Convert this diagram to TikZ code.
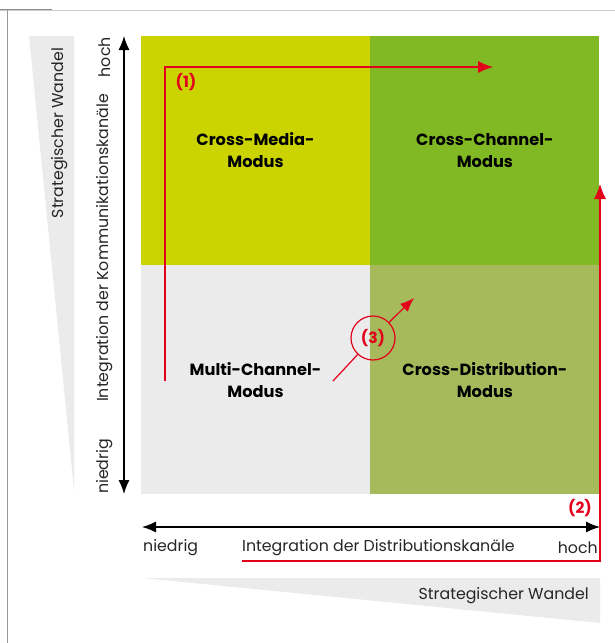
\documentclass[tikz,border=0pt]{standalone}
\usepackage{fontspec}
\setmainfont{Poppins}
\usetikzlibrary{arrows.meta,positioning}
\definecolor{mediagelb}{RGB}{203,211,0}
\definecolor{channelgruen}{RGB}{128,185,36}
\definecolor{multigrau}{RGB}{235,235,235}
\definecolor{distgruen}{RGB}{166,186,92}
\definecolor{pfeilrot}{RGB}{226,0,26}
\begin{document}
\begin{tikzpicture}[x=1pt,y=-1pt,
  quad/.style={minimum width=229pt,minimum height=229pt,inner sep=0pt,align=center,
    font=\fontsize{16.2}{22}\selectfont\bfseries},
  achse/.style={{Latex[length=14pt,width=11pt]}-{Latex[length=14pt,width=11pt]},line width=1.2pt},
  pfad/.style={color=pfeilrot,line width=1.2pt,-{Latex[length=15pt,width=12pt]}},
  marke/.style={text=pfeilrot,font=\fontsize{15.5}{17}\selectfont\bfseries,inner sep=0pt},
  beschr/.style={font=\fontsize{15.8}{18}\selectfont,inner sep=0pt,text=black!85}]
\useasboundingbox (0,0) rectangle (615,643);

% Rahmen
\draw[black!20,line width=1pt] (0,10) -- (615,10);
\draw[black!45,line width=1pt] (0,9) -- (52,9);
\draw[black!40,line width=1pt] (7,10) -- (7,643);

% Keile
\fill[multigrau] (29,36) -- (74,36) -- (74,490) -- cycle;
\fill[multigrau] (142,578) -- (600,578) -- (600,623) -- cycle;
\node[beschr,rotate=90] (keillinks) at (60,133) {Strategischer Wandel};
\node[beschr,anchor=east] (keilunten) at (589,596) {Strategischer Wandel};

% Quadranten
\node[quad,fill=mediagelb] (cm) at (255.5,150.5) {Cross-Media-\\Modus};
\node[quad,fill=channelgruen,right=0pt of cm] (cc) {Cross-Channel-\\Modus};
\node[quad,fill=multigrau,below=0pt of cm] (mc) {Multi-Channel-\\Modus};
\node[quad,fill=distgruen,right=0pt of mc] (cd) {Cross-Distribution-\\Modus};

% Achsen
\coordinate (yoben) at (124,36);
\coordinate (yunten) at (124,494);
\coordinate (xlinks) at (142,527);
\coordinate (xrechts) at (600,527);
\draw[achse] (yunten) -- (yoben);
\draw[achse] (xlinks) -- (xrechts);
\node[beschr,rotate=90,anchor=east] (yhoch) at (105,37) {hoch};
\node[beschr,rotate=90,anchor=west] (yniedrig) at (105,494) {niedrig};
\node[beschr,rotate=90] (ytitel) at (105,248) {Integration der Kommunikationskanäle};
\node[beschr,anchor=west] (xniedrig) at (143,548) {niedrig};
\node[beschr,anchor=east] (xhoch) at (598,548) {hoch};
\node[beschr,anchor=west] (xtitel) at (242,548) {Integration der Distributionskanäle};

% Entwicklungspfade
\coordinate (p1start) at (165,381);
\coordinate (p1ziel) at (493,67);
\draw[pfad] (p1start) |- (p1ziel);
\node[marke] (m1) at (186,82) {(1)};
\coordinate (p2start) at (242,561);
\coordinate (p2ziel) at (600,184);
\draw[pfad] (p2start) -| (p2ziel);
\node[marke] (m2) at (580,508) {(2)};
\node[marke,draw=pfeilrot,circle,line width=1.2pt,minimum size=44pt] (m3) at (373,338) {(3)};
\coordinate (p3start) at (333,381);
\coordinate (p3ziel) at (414,298);
\draw[pfeilrot,line width=1.2pt] (p3start) -- (m3);
\draw[pfad,-{Latex[length=14pt,width=11pt]}] (m3) -- (p3ziel);

\end{tikzpicture}
\end{document}
